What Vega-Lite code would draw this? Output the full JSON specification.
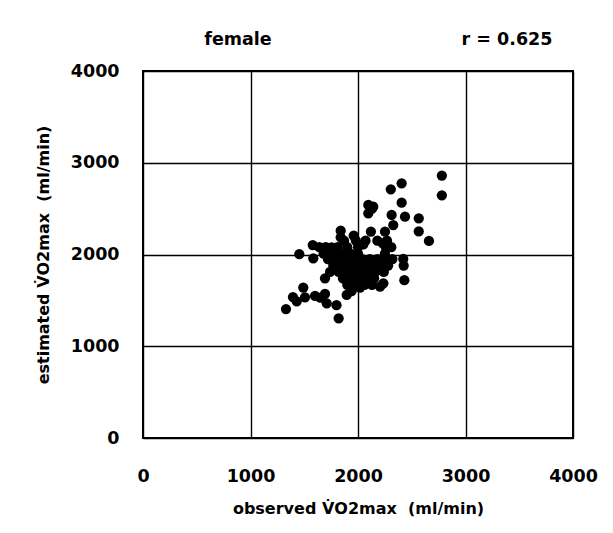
{
  "$schema": "https://vega.github.io/schema/vega-lite/v6.json",
  "width": 430,
  "height": 367,
  "autosize": "none",
  "padding": {"left": 143, "top": 71, "right": 40, "bottom": 95},
  "background": "white",
  "datasets": {
    "female": [
      {"observed": 2780, "estimated": 2860}, {"observed": 2780, "estimated": 2645}, {"observed": 2406, "estimated": 2776},
      {"observed": 2305, "estimated": 2711}, {"observed": 2406, "estimated": 2565}, {"observed": 2096, "estimated": 2540},
      {"observed": 2142, "estimated": 2521}, {"observed": 2096, "estimated": 2449}, {"observed": 2130, "estimated": 2500},
      {"observed": 2313, "estimated": 2431}, {"observed": 2437, "estimated": 2412}, {"observed": 2565, "estimated": 2395},
      {"observed": 2565, "estimated": 2252}, {"observed": 2660, "estimated": 2148}, {"observed": 2328, "estimated": 2321},
      {"observed": 1839, "estimated": 2259}, {"observed": 1839, "estimated": 2187}, {"observed": 2120, "estimated": 2250},
      {"observed": 2251, "estimated": 2249}, {"observed": 1960, "estimated": 2205}, {"observed": 1454, "estimated": 2005},
      {"observed": 1579, "estimated": 2103}, {"observed": 1755, "estimated": 2078}, {"observed": 1584, "estimated": 1958},
      {"observed": 2421, "estimated": 1952}, {"observed": 2425, "estimated": 1880}, {"observed": 2431, "estimated": 1720},
      {"observed": 1693, "estimated": 1740}, {"observed": 1491, "estimated": 1640}, {"observed": 1395, "estimated": 1536},
      {"observed": 1330, "estimated": 1405}, {"observed": 1507, "estimated": 1534}, {"observed": 1600, "estimated": 1548},
      {"observed": 1693, "estimated": 1570}, {"observed": 1709, "estimated": 1468}, {"observed": 1800, "estimated": 1448},
      {"observed": 1820, "estimated": 1305}, {"observed": 1895, "estimated": 1559}, {"observed": 2019, "estimated": 1640},
      {"observed": 2205, "estimated": 1649}, {"observed": 2236, "estimated": 1686}, {"observed": 2205, "estimated": 1831},
      {"observed": 1430, "estimated": 1490}, {"observed": 1650, "estimated": 1530},
      {"observed": 1870, "estimated": 2150}, {"observed": 1980, "estimated": 2150}, {"observed": 2070, "estimated": 2150},
      {"observed": 2180, "estimated": 2150}, {"observed": 2270, "estimated": 2150}, {"observed": 2230, "estimated": 2120},
      {"observed": 1640, "estimated": 2080}, {"observed": 1700, "estimated": 2080}, {"observed": 1810, "estimated": 2080},
      {"observed": 1900, "estimated": 2080}, {"observed": 2000, "estimated": 2080}, {"observed": 2260, "estimated": 2080},
      {"observed": 2310, "estimated": 2080}, {"observed": 2050, "estimated": 2110},
      {"observed": 1680, "estimated": 2010}, {"observed": 1760, "estimated": 2010}, {"observed": 1850, "estimated": 2010},
      {"observed": 1930, "estimated": 2010}, {"observed": 2000, "estimated": 2010}, {"observed": 2250, "estimated": 2010},
      {"observed": 1720, "estimated": 1950}, {"observed": 1800, "estimated": 1950}, {"observed": 1880, "estimated": 1950},
      {"observed": 1960, "estimated": 1950}, {"observed": 2040, "estimated": 1950}, {"observed": 2110, "estimated": 1950},
      {"observed": 2180, "estimated": 1950}, {"observed": 2260, "estimated": 1950}, {"observed": 2320, "estimated": 1950},
      {"observed": 1770, "estimated": 1880}, {"observed": 1850, "estimated": 1880}, {"observed": 1920, "estimated": 1880},
      {"observed": 1990, "estimated": 1880}, {"observed": 2060, "estimated": 1880}, {"observed": 2130, "estimated": 1880},
      {"observed": 2200, "estimated": 1880}, {"observed": 2280, "estimated": 1880},
      {"observed": 1820, "estimated": 1810}, {"observed": 1890, "estimated": 1810}, {"observed": 1960, "estimated": 1810},
      {"observed": 2030, "estimated": 1810}, {"observed": 2100, "estimated": 1810}, {"observed": 2160, "estimated": 1810},
      {"observed": 2240, "estimated": 1810}, {"observed": 1740, "estimated": 1810},
      {"observed": 1860, "estimated": 1740}, {"observed": 1930, "estimated": 1740}, {"observed": 2000, "estimated": 1740},
      {"observed": 2080, "estimated": 1740}, {"observed": 2150, "estimated": 1740},
      {"observed": 1900, "estimated": 1670}, {"observed": 1960, "estimated": 1670}, {"observed": 2060, "estimated": 1670},
      {"observed": 2130, "estimated": 1670}, {"observed": 1940, "estimated": 1600}
    ],
    "heading": [{"label": "female"}],
    "note": [{"label": "r = 0.625"}]
  },
  "layer": [
    {
      "data": {"name": "female"},
      "mark": {"type": "circle", "color": "black", "opacity": 1, "size": 105},
      "encoding": {
        "x": {
          "field": "observed", "type": "quantitative",
          "scale": {"domain": [0, 4000], "nice": false},
          "axis": {
            "values": [0, 1000, 2000, 3000, 4000], "format": "d",
            "title": "observed V\u0307O2max\u00a0 (ml/min)",
            "labelPadding": 29, "titlePadding": 16
          }
        },
        "y": {
          "field": "estimated", "type": "quantitative",
          "scale": {"domain": [0, 4000], "nice": false},
          "axis": {
            "values": [0, 1000, 2000, 3000, 4000], "format": "d",
            "title": "estimated V\u0307O2max\u00a0 (ml/min)",
            "labelPadding": 24, "titlePadding": 19
          }
        }
      }
    },
    {
      "data": {"name": "heading"},
      "mark": {"type": "text", "font": "DejaVu Sans", "fontSize": 17.5, "fontWeight": "bold", "color": "black", "clip": false, "align": "center", "baseline": "middle"},
      "encoding": {
        "x": {"datum": 884, "type": "quantitative"},
        "y": {"datum": 4338, "type": "quantitative"},
        "text": {"field": "label"}
      }
    },
    {
      "data": {"name": "note"},
      "mark": {"type": "text", "font": "DejaVu Sans", "fontSize": 17.5, "fontWeight": "bold", "color": "black", "clip": false, "align": "center", "baseline": "middle"},
      "encoding": {
        "x": {"datum": 3386, "type": "quantitative"},
        "y": {"datum": 4338, "type": "quantitative"},
        "text": {"field": "label"}
      }
    }
  ],
  "config": {
    "view": {"stroke": "black", "strokeWidth": 2},
    "axis": {
      "grid": true, "gridColor": "black", "gridWidth": 1.4, "gridOpacity": 1,
      "domain": false, "ticks": false,
      "labelFont": "DejaVu Sans", "labelFontSize": 17.5, "labelFontWeight": "bold", "labelColor": "black",
      "labelFlush": false, "labelOverlap": false,
      "titleFont": "DejaVu Sans", "titleFontSize": 16, "titleFontWeight": "bold", "titleColor": "black"
    }
  }
}
